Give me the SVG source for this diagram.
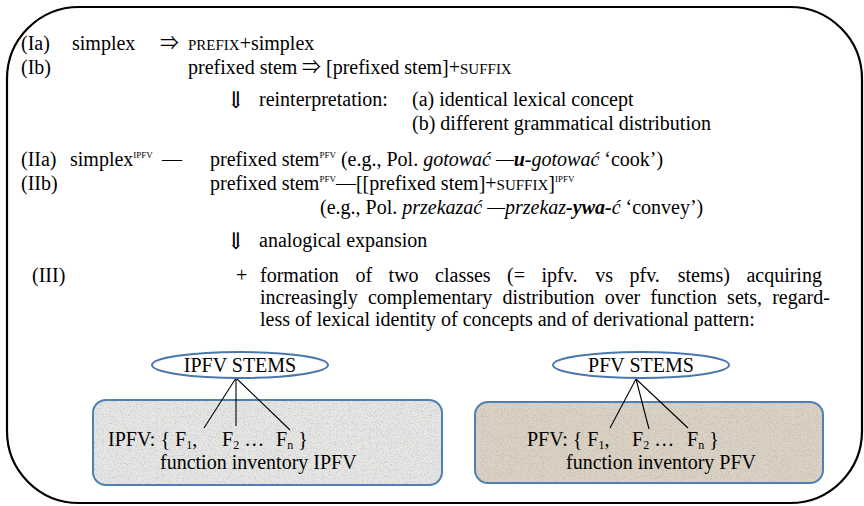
<svg xmlns="http://www.w3.org/2000/svg" width="864" height="506" viewBox="0 0 864 506">
  <style>
    text { font-family: "Liberation Serif", "Times New Roman", "DejaVu Serif", serif; font-size: 20px; fill: #000; }
    .sc { font-size: 15px; }
    .sup { font-size: 9px; }
    .sub { font-size: 12px; }
    .arw { font-family: "Noto Sans CJK JP", "DejaVu Serif", serif; font-size: 19px; }
    .darw { font-family: "Noto Sans CJK JP", "DejaVu Serif", serif; font-size: 23px; }
    .it { font-style: italic; }
    .bi { font-style: italic; font-weight: bold; }
    .frame { fill: none; stroke: #000; stroke-width: 2.2; }
    .oval { fill: #fff; stroke: #4a78ad; stroke-width: 2; }
    .box { stroke: #4f7fb3; stroke-width: 2; fill: none; }
    .link { stroke: #000; stroke-width: 1.1; fill: none; }
  </style>
  <defs>
    <!-- fine speckle for the textured inventory boxes -->
    <filter id="grain" x="0" y="0" width="100%" height="100%">
      <feTurbulence type="fractalNoise" baseFrequency="0.85" numOctaves="3" seed="7" result="n"/>
      <feColorMatrix in="n" type="matrix" values="0 0 0 0 0.35  0 0 0 0 0.35  0 0 0 0 0.35  1.6 0 0 0 -0.78" result="g"/>
      <feComposite in="g" in2="SourceGraphic" operator="in" result="s"/>
      <feMerge><feMergeNode in="SourceGraphic"/><feMergeNode in="s"/></feMerge>
    </filter>
  </defs>
  <rect width="864" height="506" fill="#fff"/>

  <!-- outer rounded frame -->
  <rect class="frame" x="7" y="7" width="855" height="496" rx="72" ry="72"/>

  <!-- stage I -->
  <g id="stage-I">
    <text x="21" y="50">(Ia)</text>
    <text x="72" y="50">simplex</text>
    <text class="arw" x="160" y="50">⇒</text>
    <text x="188" y="50"><tspan class="sc">PREFIX</tspan>+simplex</text>
    <text x="21" y="74">(Ib)</text>
    <text x="188" y="74">prefixed stem</text>
    <text class="arw" x="302" y="74">⇒</text>
    <text x="326" y="74">[prefixed stem]+<tspan class="sc">SUFFIX</tspan></text>
    <text class="darw" x="226" y="108">⇓</text>
    <text x="259" y="106">reinterpretation:</text>
    <text x="412" y="106">(a) identical lexical concept</text>
    <text x="412" y="130">(b) different grammatical distribution</text>
  </g>

  <!-- stage II -->
  <g id="stage-II">
    <text x="21" y="166">(IIa)</text>
    <text x="70" y="166">simplex<tspan class="sup" dy="-8">IPFV</tspan></text>
    <text x="162" y="166">—</text>
    <text x="210" y="166">prefixed stem<tspan class="sup" dy="-8">PFV</tspan><tspan dy="8"> (e.g., Pol. </tspan><tspan class="it">gotować —</tspan><tspan class="bi">u</tspan><tspan class="it">-gotować</tspan> ‘cook’)</text>
    <text x="21" y="190">(IIb)</text>
    <text x="210" y="190">prefixed stem<tspan class="sup" dy="-8">PFV</tspan><tspan dy="8">—[[prefixed stem]+</tspan><tspan class="sc">SUFFIX</tspan>]<tspan class="sup" dy="-8">IPFV</tspan></text>
    <text x="320" y="214">(e.g., Pol. <tspan class="it">przekazać —przekaz</tspan><tspan class="bi">-ywa-</tspan><tspan class="it">ć</tspan> ‘convey’)</text>
    <text class="darw" x="226" y="249">⇓</text>
    <text x="259" y="247">analogical expansion</text>
  </g>

  <!-- stage III -->
  <g id="stage-III">
    <text x="32" y="282">(III)</text>
    <text x="236" y="282">+</text>
    <text y="282"><tspan x="260">formation</tspan><tspan x="355.4">of</tspan><tspan x="388.6">two</tspan><tspan x="435.1">classes</tspan><tspan x="507.1">(=</tspan><tspan x="541.5">ipfv.</tspan><tspan x="595.2">vs</tspan><tspan x="629.5">pfv.</tspan><tspan x="677.7">stems)</tspan><tspan x="746.4">acquiring</tspan></text>
    <text y="304"><tspan x="260">increasingly</tspan><tspan x="367.9">complementary</tspan><tspan x="502.4">distribution</tspan><tspan x="604.7">over</tspan><tspan x="650.3">function</tspan><tspan x="727.1">sets,</tspan><tspan x="772.2">regard-</tspan></text>
    <text x="260" y="326">less of lexical identity of concepts and of derivational pattern:</text>
  </g>

  <!-- imperfective inventory -->
  <g id="ipfv-inventory">
    <rect x="93" y="400" width="349" height="85" rx="13" fill="#e6e6e4" filter="url(#grain)"/>
    <rect class="box" x="93" y="400" width="349" height="85" rx="13"/>
    <text x="108" y="446">IPFV: { F<tspan class="sub" dy="3">1</tspan><tspan dy="-3">,</tspan><tspan x="222">F</tspan><tspan class="sub" dy="3">2</tspan><tspan dy="-3"> … </tspan><tspan x="276">F</tspan><tspan class="sub" dy="3">n</tspan><tspan dy="-3"> }</tspan></text>
    <text x="160" y="469">function inventory IPFV</text>
  </g>

  <!-- perfective inventory -->
  <g id="pfv-inventory">
    <rect x="475" y="402" width="348" height="81" rx="13" fill="#dbd2c4" filter="url(#grain)"/>
    <rect class="box" x="475" y="402" width="348" height="81" rx="13"/>
    <text x="527" y="446">PFV: { F<tspan class="sub" dy="3">1</tspan><tspan dy="-3">,</tspan><tspan x="632">F</tspan><tspan class="sub" dy="3">2</tspan><tspan dy="-3"> … </tspan><tspan x="687">F</tspan><tspan class="sub" dy="3">n</tspan><tspan dy="-3"> }</tspan></text>
    <text x="566" y="469">function inventory PFV</text>
  </g>

  <!-- connectors from stem classes to functions -->
  <g id="connectors">
    <path class="link" d="M236 378 L204 428 M236 378 L236 426 M236 378 L290 430"/>
    <path class="link" d="M636 379 L610 428 M636 379 L649 429 M636 379 L688 428"/>
  </g>

  <g id="ipfv-stems">
    <ellipse class="oval" cx="240" cy="365" rx="88" ry="13"/>
    <text x="240" y="372" text-anchor="middle">IPFV STEMS</text>
  </g>
  <g id="pfv-stems">
    <ellipse class="oval" cx="641" cy="365" rx="88" ry="13"/>
    <text x="641" y="372" text-anchor="middle">PFV STEMS</text>
  </g>
</svg>
